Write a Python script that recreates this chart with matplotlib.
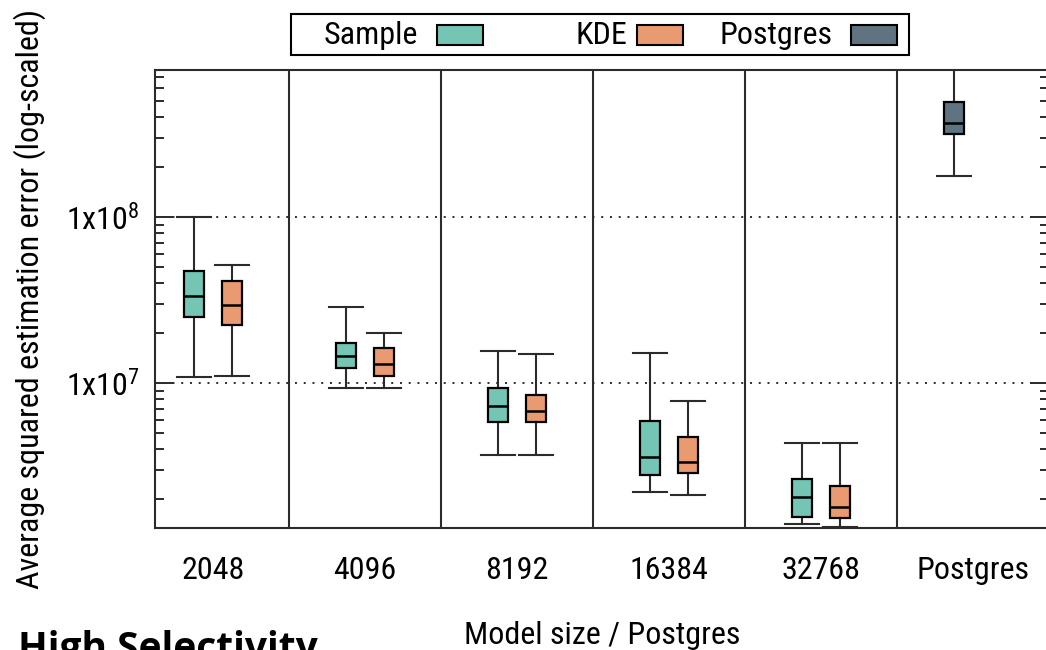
import numpy as np
import matplotlib
matplotlib.use("Agg")
import matplotlib.pyplot as plt
from matplotlib.patches import Rectangle
from matplotlib.ticker import FixedLocator, LogLocator, NullFormatter

plt.rcParams['font.family'] = ['Roboto Condensed', 'Liberation Sans', 'DejaVu Sans']
plt.rcParams['mathtext.fontset'] = 'custom'
plt.rcParams['mathtext.rm'] = 'Roboto Condensed'
plt.rcParams['mathtext.default'] = 'regular'

groups = ['2048', '4096', '8192', '16384', '32768', 'Postgres']
series = ['Sample', 'KDE', 'Postgres']
colors = ['#74c5b4', '#e99a70', '#5f7380']

# whisker low, q1, median, q3, whisker high (per model size)
sample_lo = [1.09e7, 9.3e6, 3.68e6, 2.20e6, 1.41e6]
sample_q1 = [2.51e7, 1.24e7, 5.8e6, 2.80e6, 1.57e6]
sample_med = [3.36e7, 1.46e7, 7.24e6, 3.61e6, 2.06e6]
sample_q3 = [4.73e7, 1.75e7, 9.29e6, 5.9e6, 2.63e6]
sample_hi = [1.0e8, 2.87e7, 1.56e7, 1.52e7, 4.33e6]

kde_lo = [1.11e7, 9.3e6, 3.68e6, 2.11e6, 1.36e6]
kde_q1 = [2.24e7, 1.11e7, 5.8e6, 2.88e6, 1.53e6]
kde_med = [2.94e7, 1.31e7, 6.81e6, 3.37e6, 1.80e6]
kde_q3 = [4.11e7, 1.63e7, 8.5e6, 4.73e6, 2.40e6]
kde_hi = [5.14e7, 2.0e7, 1.50e7, 7.76e6, 4.33e6]

pg_lo = [1.78e8]
pg_q1 = [3.19e8]
pg_med = [3.68e8]
pg_q3 = [4.91e8]
pg_hi = [9.0e8]

W, H = 1046, 650
fs = 23
fig = plt.figure(figsize=(W / 100, H / 100), dpi=100)
ax = fig.add_axes([155 / W, 1 - 528 / H, (1049 - 155) / W, (528 - 70) / H])
ax.set_yscale('log')

off = 0.125


def make_stats(lo, q1, med, q3, hi):
    return [dict(whislo=a, q1=b, med=c, q3=d, whishi=e, fliers=[])
            for a, b, c, d, e in zip(lo, q1, med, q3, hi)]


all_stats = [
    (make_stats(sample_lo, sample_q1, sample_med, sample_q3, sample_hi),
     np.arange(1, 6) - off, colors[0]),
    (make_stats(kde_lo, kde_q1, kde_med, kde_q3, kde_hi),
     np.arange(1, 6) + off, colors[1]),
    (make_stats(pg_lo, pg_q1, pg_med, pg_q3, pg_hi),
     np.array([6]) - off, colors[2]),
]

lc = '#2b2b2b'
for stats, pos, col in all_stats:
    bp = ax.bxp(stats, positions=pos, widths=0.13, capwidths=0.22,
                patch_artist=True, showfliers=False, manage_ticks=False,
                boxprops=dict(facecolor=col, edgecolor='black', linewidth=1.6),
                medianprops=dict(color='black', linewidth=1.8),
                whiskerprops=dict(color=lc, linewidth=1.5),
                capprops=dict(color=lc, linewidth=1.5))
    for b in bp['boxes']:
        b.set_zorder(3)
    for m in bp['medians']:
        m.set_zorder(4)

for x in np.arange(1.5, 6, 1.0):
    ax.axvline(x, color=lc, linewidth=1.5, zorder=1)

ax.set_xlim(0.618, 6.5)
ax.set_ylim(1.34e6, 7.7e8)

ax.yaxis.set_major_locator(FixedLocator([1e7, 1e8]))
ax.set_yticklabels([r'1x10$^{7}$', r'1x10$^{8}$'])
ax.yaxis.set_minor_locator(LogLocator(base=10, subs=np.arange(2, 10)))
ax.yaxis.set_minor_formatter(NullFormatter())
ax.tick_params(axis='y', which='both', direction='in', left=True, right=True,
               color=lc, width=1.4, labelsize=fs, pad=11)
ax.tick_params(axis='y', which='major', length=13)
ax.tick_params(axis='y', which='minor', length=6.5)
ax.yaxis.grid(True, which='major', linestyle=(0, (1, 3.5)), color=lc,
              linewidth=1.4)
ax.set_axisbelow(True)

ax.set_xticks(np.arange(1, 7))
ax.set_xticklabels(groups)
ax.tick_params(axis='x', length=0, pad=20, labelsize=fs)

for s in ax.spines.values():
    s.set_color(lc)
    s.set_linewidth(1.5)

ax.set_xlabel('Model size / Postgres', fontsize=fs, labelpad=26)
fig.text(30 / W, 1 - 299 / H, 'Average squared estimation error (log-scaled)',
         rotation=90, ha='center', va='center', fontsize=fs)

# legend, gnuplot style: text then swatch
fig.add_artist(Rectangle((291 / W, 1 - 55 / H), (909 - 291) / W, 41 / H,
                         transform=fig.transFigure, fill=False,
                         edgecolor='black', linewidth=1.5))
text_right = [418, 627, 833]
sw_left = [437, 637, 851]
for name, col, tr, sl in zip(series, colors, text_right, sw_left):
    fig.text(tr / W, 1 - 35 / H, name, ha='right', va='center', fontsize=fs)
    fig.add_artist(Rectangle((sl / W, 1 - 45 / H), 46 / W, 20 / H,
                             transform=fig.transFigure, facecolor=col,
                             edgecolor='black', linewidth=1.5))

fig.text(18 / W, 1 - 660 / H, 'High Selectivity', ha='left', va='baseline',
         fontsize=28, fontweight='bold', family=['Open Sans', 'DejaVu Sans'])

fig.savefig('out.png', dpi=100)
